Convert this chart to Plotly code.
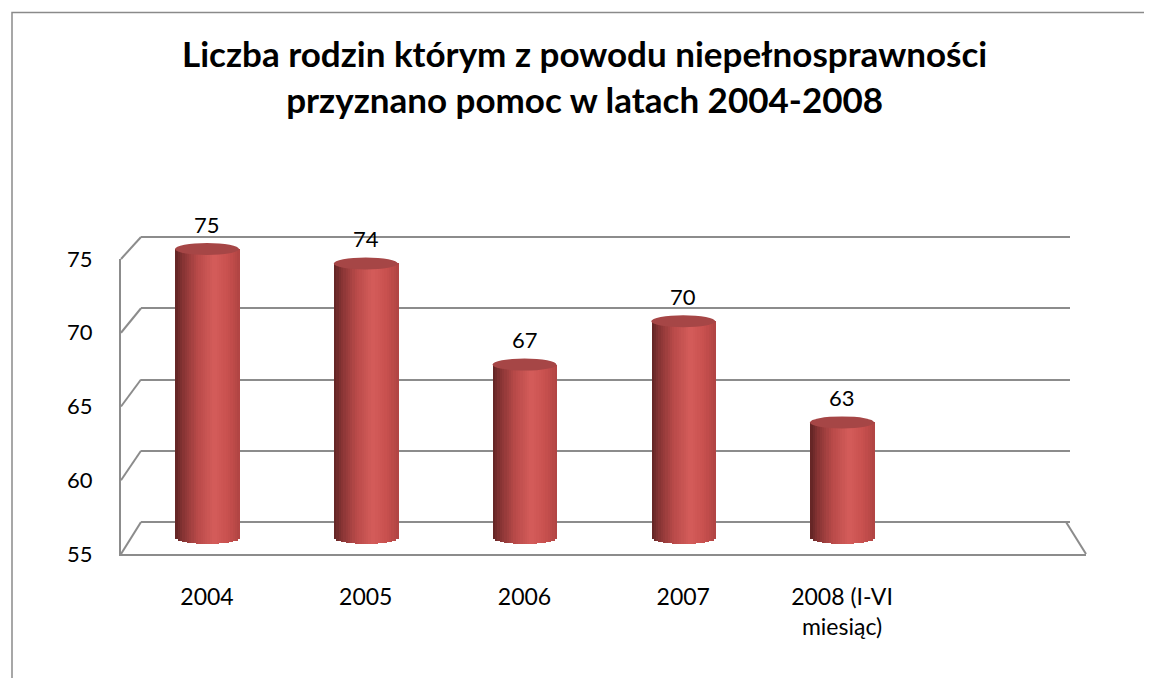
import numpy as np
import plotly.graph_objects as go

# ---------------- data ----------------
categories = ["2004", "2005", "2006", "2007", "2008 (I-VI<br>miesiąc)"]
values = [75, 74, 67, 70, 63]
y_ticks = [55, 60, 65, 70, 75]
title_text = "Liczba rodzin którym z powodu niepełnosprawności<br>przyznano pomoc w latach 2004-2008"

OFF = 8                      # page body margin of the browser
W, H = 1152 - OFF, 678 - OFF
FONT = "Lato"
GRID = "#8c8c8c"
Y_MIN, Y_MAX = 55, 75

def px_x(p):
    return (p - OFF) / W

def px_y(p):
    return 1 - (p - OFF) / H

# pixel geometry (screen coords) of the three planes
back_top, back_bot = 237, 522      # y px of 75 and 55 on back wall
front_top, front_bot = 259, 554    # y px of 75 and 55 on front plane
bar_top, bar_bot = 249, 538        # y px of 75 and 55 at bar depth
back_left, back_right = 141, 1070
front_left, front_right = 121, 1086
slot = 158.75
first_center = 207

def domain_for(range_lo, range_hi, top_px, bot_px):
    scale = (bot_px - top_px) / (Y_MAX - Y_MIN)
    lo_px = bot_px + (Y_MIN - range_lo) * scale
    hi_px = top_px - (range_hi - Y_MAX) * scale
    return [px_y(lo_px), px_y(hi_px)], scale

fig = go.Figure()

# ---- subplot 1 (x/y): back wall gridlines ----
g_range = [54.8, 75.2]
g_dom, _ = domain_for(g_range[0], g_range[1], back_top, back_bot)
fig.add_trace(go.Scatter(x=[0], y=[Y_MIN], mode="markers", marker=dict(opacity=0),
                         hoverinfo="skip", showlegend=False, xaxis="x", yaxis="y"))

# ---- subplot 2 (x2/y2): front plane with tick labels ----
f_dom, _ = domain_for(Y_MIN, Y_MAX, front_top, front_bot)
fig.add_trace(go.Scatter(x=[0], y=[Y_MIN], mode="markers", marker=dict(opacity=0),
                         hoverinfo="skip", showlegend=False, xaxis="x2", yaxis="y2"))

# ---- subplot 3 (x3/y3): cylinders ----
b_range = [53.0, 77.0]
b_dom, b_scale = domain_for(b_range[0], b_range[1], bar_top, bar_bot)
n_slots = 6
x3_lo = first_center - slot / 2
x3_hi = x3_lo + n_slots * slot

bar_w = 64 / slot
rx = bar_w / 2
ry = 6.0 / b_scale
N = 28
strip = bar_w / N

stops = [(0.0, (96, 36, 36)), (0.12, (135, 52, 52)), (0.35, (185, 74, 73)),
         (0.6, (212, 92, 90)), (0.82, (200, 80, 78)), (1.0, (176, 68, 67))]

def grad(t):
    for (t0, c0), (t1, c1) in zip(stops[:-1], stops[1:]):
        if t0 <= t <= t1:
            f = (t - t0) / (t1 - t0)
            return "rgb(%d,%d,%d)" % tuple(round(a + (b - a) * f) for a, b in zip(c0, c1))
    return "rgb(%d,%d,%d)" % stops[-1][1]

xs = list(range(len(categories)))
vals = np.array(values, dtype=float)
for k in range(N):
    xm = -rx + (k + 0.5) * strip
    base_k = Y_MIN - ry * np.sqrt(max(0.0, 1 - (xm / rx) ** 2))
    fig.add_trace(go.Bar(
        x=xs, y=vals - base_k, base=base_k,
        offset=-rx + k * strip, width=strip * 1.25,
        marker=dict(color=grad((k + 0.5) / N), line=dict(width=0)),
        hoverinfo="skip", showlegend=False, xaxis="x3", yaxis="y3"))

shapes = []
# top ellipses of cylinders
for i, v in zip(xs, values):
    shapes.append(dict(type="circle", xref="x3", yref="y3",
                       x0=i - rx, x1=i + rx, y0=v - ry, y1=v + ry,
                       fillcolor="#a64646", line=dict(width=0), layer="above"))

# side-wall diagonals connecting front ticks to back gridlines
def yf(t):
    return front_bot - (t - Y_MIN) * (front_bot - front_top) / (Y_MAX - Y_MIN)

def yb(t):
    return back_bot - (t - Y_MIN) * (back_bot - back_top) / (Y_MAX - Y_MIN)

for t in y_ticks:
    shapes.append(dict(type="line", xref="paper", yref="paper",
                       x0=px_x(front_left), y0=px_y(yf(t)),
                       x1=px_x(back_left), y1=px_y(yb(t)),
                       line=dict(color=GRID, width=2), layer="above"))
# floor right edge
shapes.append(dict(type="line", xref="paper", yref="paper",
                   x0=px_x(front_right), y0=px_y(front_bot),
                   x1=px_x(back_right - 4), y1=px_y(back_bot),
                   line=dict(color=GRID, width=2), layer="above"))
# chart frame (top and left edges)
shapes.append(dict(type="path", xref="paper", yref="paper",
                   path="M %f,%f L %f,%f L %f,%f" % (px_x(12), 0, px_x(12), px_y(12.5), 1, px_y(12.5)),
                   line=dict(color="#8a8a8a", width=1.5), layer="above"))

annotations = []
for i, v in zip(xs, values):
    annotations.append(dict(x=i, y=v, xref="x3", yref="y3", text=str(v),
                            showarrow=False, yanchor="middle", yshift=25,
                            font=dict(family=FONT, size=22, color="#000")))

# chart title (two lines)
annotations.append(dict(x=px_x(584), y=px_y(76), xref="paper", yref="paper",
                        text="<b>" + title_text + "</b>", showarrow=False,
                        xanchor="center", yanchor="middle", align="center",
                        font=dict(family=FONT, size=35, color="#000")))

common = dict(automargin=False, fixedrange=True, zeroline=False)

fig.update_layout(
    width=W, height=H,
    margin=dict(l=0, r=0, t=0, b=0, pad=0, autoexpand=False),
    paper_bgcolor="white", plot_bgcolor="rgba(0,0,0,0)",
    barmode="overlay", bargap=0,
    showlegend=False,
    font=dict(family=FONT, color="#000"),
    xaxis=dict(domain=[px_x(back_left), px_x(back_right)], range=[0, 1],
               showgrid=False, showticklabels=False, showline=False,
               ticks="", anchor="y", **common),
    yaxis=dict(domain=g_dom, range=g_range, tickvals=y_ticks, showgrid=True,
               gridcolor=GRID, gridwidth=2, showticklabels=False,
               showline=False, ticks="", anchor="x", **common),
    xaxis2=dict(domain=[px_x(front_left), px_x(front_right)], range=[0, 1],
                showgrid=False, showticklabels=False,
                showline=True, linecolor=GRID, linewidth=2, ticks="",
                anchor="y2", **common),
    yaxis2=dict(domain=f_dom, range=[Y_MIN, Y_MAX], tickvals=y_ticks,
                showgrid=False, showline=True, linecolor=GRID,
                linewidth=2, ticks="", ticklabelstandoff=22,
                tickfont=dict(family=FONT, size=22, color="#000"),
                anchor="x2", **common),
    xaxis3=dict(domain=[px_x(x3_lo), px_x(x3_hi)], range=[-0.5, n_slots - 0.5],
                tickvals=xs, ticktext=categories, showgrid=False,
                showline=False, ticks="", ticklabelstandoff=14,
                tickfont=dict(family=FONT, size=23, color="#000"),
                anchor="y3", **common),
    yaxis3=dict(domain=b_dom, range=b_range, showgrid=False,
                showticklabels=False, showline=False, ticks="",
                anchor="x3", **common),
    shapes=shapes, annotations=annotations,
)

fig.write_html("out.html")
